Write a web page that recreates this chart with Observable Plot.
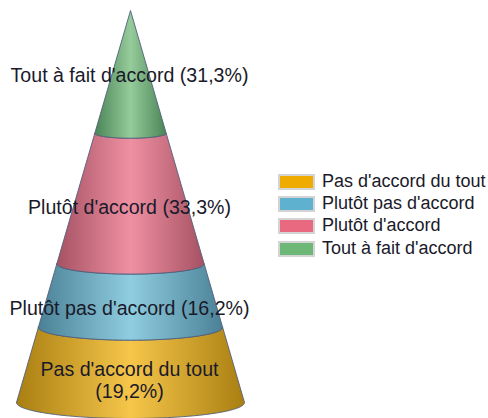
<!DOCTYPE html>
<html>
<head>
<meta charset="utf-8">
<script src="https://cdn.jsdelivr.net/npm/d3@7"></script>
<script src="https://cdn.jsdelivr.net/npm/@observablehq/plot@0.6"></script>
<style>
html,body{margin:0;padding:0;background:#fff;overflow:hidden}
#wrap{position:relative;width:488px;height:418px}
#legend{position:absolute;left:278px;top:170px;font:18px "Liberation Sans",Arial,sans-serif;color:#1a1a2a}
#legend div{display:flex;align-items:center;height:22.3px;white-space:nowrap}
#legend i{display:block;box-sizing:border-box;width:37px;height:16px;border:2px solid #d4d4d4;margin:1px 7px 0 0}
</style>
</head>
<body>
<div id="wrap"><div id="legend"></div></div>
<script>
const categories = ["Pas d'accord du tout", "Plutôt pas d'accord", "Plutôt d'accord", "Tout à fait d'accord"];
const values = [19.2, 16.2, 33.3, 31.3];
const valueLabels = ["19,2%", "16,2%", "33,3%", "31,3%"];
const labelBreaks = [true, false, false, false];
const legendColors = ["#f0ab00", "#5fb2cf", "#e96a80", "#6db876"];
const edgeColors = ["#a97f12", "#4b8196", "#a65263", "#4a8556"];
const midColors = ["#f6c64a", "#8fcde0", "#ee90a2", "#96cb9b"];

const tilt = 4.08; // depth of the base ellipse, in y-scale units
const total = d3.sum(values);
const halfWidth = y => 1 - y / total;
const arc = (y, from, to, n = 48) => d3.range(n + 1).map(i => {
  const t = from + (to - from) * i / n;
  return {x: halfWidth(y) * Math.cos(t), y: y - tilt * halfWidth(y) * Math.sin(t)};
});

let acc = 0;
const slices = values.map((v, i) => {
  const y0 = acc, y1 = acc + v; acc = y1;
  const pts = [...arc(y0, Math.PI, 0), ...arc(y1, 0, Math.PI)];
  pts.push(pts[0]);
  return {
    i, pts,
    labelX: 0,
    labelY: (y0 + y1) / 2 - tilt * (halfWidth(y0) + halfWidth(y1)) / 2,
    label: categories[i] + (labelBreaks[i] ? "\n" : " ") + "(" + valueLabels[i] + ")"
  };
});

const defsMark = () => {
  const defs = d3.create("svg:defs");
  values.forEach((_, i) => {
    const g = defs.append("linearGradient").attr("id", "cone" + i).attr("x1", 0).attr("x2", 1).attr("y1", 0).attr("y2", 0);
    g.append("stop").attr("offset", "0%").attr("stop-color", edgeColors[i]);
    g.append("stop").attr("offset", "50%").attr("stop-color", midColors[i]);
    g.append("stop").attr("offset", "100%").attr("stop-color", edgeColors[i]);
  });
  return defs.node();
};

const chart = Plot.plot({
  width: 488,
  height: 418,
  margin: 0,
  style: {background: "#fff", overflow: "hidden"},
  x: {domain: [-1, 1], range: [16, 244], axis: null},
  y: {domain: [0, total], range: [402, 10], axis: null},
  marks: [
    defsMark,
    ...slices.map(s => Plot.line(s.pts, {
      x: "x", y: "y", curve: "linear",
      fill: "url(#cone" + s.i + ")",
      stroke: "#4c5a78", strokeWidth: 1, strokeOpacity: 0.85
    })),
    Plot.text(slices, {
      x: "labelX", y: "labelY", text: "label",
      fontSize: 19.6, dx: -1, dy: 1, fontFamily: "'Liberation Sans', Arial, sans-serif",
      fill: "#1a1a2a", lineHeight: 1.1
    })
  ]
});
document.getElementById("wrap").prepend(chart);

const legend = document.getElementById("legend");
categories.forEach((c, i) => {
  const row = document.createElement("div");
  const sw = document.createElement("i");
  sw.style.background = legendColors[i];
  const t = document.createElement("span");
  t.textContent = c;
  row.append(sw, t);
  legend.append(row);
});
</script>
</body>
</html>
